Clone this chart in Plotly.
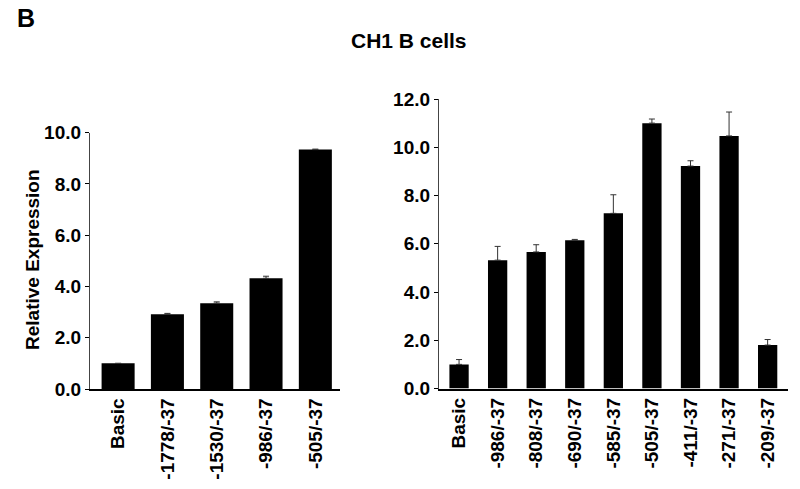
import plotly.graph_objects as go

# Left panel
left_labels = ["Basic", "-1778/-37", "-1530/-37", "-986/-37", "-505/-37"]
left_values = [1.0, 2.92, 3.35, 4.32, 9.34]
left_errors = [0.0, 0.03, 0.05, 0.08, 0.02]

# Right panel
right_labels = ["Basic", "-986/-37", "-808/-37", "-690/-37", "-585/-37",
                "-505/-37", "-411/-37", "-271/-37", "-209/-37"]
right_values = [1.0, 5.32, 5.66, 6.14, 7.26, 11.0, 9.22, 10.47, 1.8]
right_errors = [0.2, 0.57, 0.3, 0.04, 0.77, 0.17, 0.22, 0.99, 0.23]

left_ticks = [0, 2, 4, 6, 8, 10]
right_ticks = [0, 2, 4, 6, 8, 10, 12]

W, H = 800, 489
FONT = "Liberation Sans, Arial, Helvetica, sans-serif"

fig = go.Figure()

fig.add_trace(go.Bar(
    x=list(range(len(left_labels))), y=left_values, width=0.67,
    marker=dict(color="black", line=dict(width=0)),
    error_y=dict(type="data", symmetric=False, array=left_errors,
                 arrayminus=[0] * len(left_errors),
                 color="#333333", thickness=1, width=3),
    xaxis="x", yaxis="y", showlegend=False, hoverinfo="skip"))

fig.add_trace(go.Bar(
    x=list(range(len(right_labels))), y=right_values, width=0.5,
    marker=dict(color="black", line=dict(width=0)),
    error_y=dict(type="data", symmetric=False, array=right_errors,
                 arrayminus=[0] * len(right_errors),
                 color="#333333", thickness=1, width=3),
    xaxis="x2", yaxis="y2", showlegend=False, hoverinfo="skip"))

tickfont = dict(family=FONT, size=19, color="black")

common_x = dict(tickangle=-90, tickfont=tickfont, ticks="",
                showline=True, linecolor="black", linewidth=1.5,
                showgrid=False, zeroline=False, automargin=False,
                fixedrange=True)
common_y = dict(tickfont=tickfont, ticks="outside", ticklen=4,
                tickcolor="black", tickwidth=1,
                showline=True, linecolor="#444444", linewidth=1.2,
                showgrid=False, zeroline=False, automargin=False,
                fixedrange=True)

fig.update_layout(
    width=W, height=H, autosize=False,
    margin=dict(l=0, r=0, t=0, b=0, pad=0),
    paper_bgcolor="white", plot_bgcolor="white",
    font=dict(family=FONT, color="black"),
    xaxis=dict(domain=[90 / W, 340 / W], range=[-0.57, 4.5],
               tickmode="array", tickvals=list(range(len(left_labels))),
               ticktext=[f"<b>{t}</b>" for t in left_labels],
               anchor="y", **common_x),
    yaxis=dict(domain=[1 - 389 / H, 1 - 132.7 / H], range=[0, 10],
               tickmode="array", tickvals=left_ticks,
               ticktext=[f"<b>{v:.1f}</b>" for v in left_ticks],
               anchor="x", **common_y),
    xaxis2=dict(domain=[439 / W, 787.7 / W], range=[-0.52, 8.52],
                tickmode="array", tickvals=list(range(len(right_labels))),
                ticktext=[f"<b>{t}</b>" for t in right_labels],
                anchor="y2", **common_x),
    yaxis2=dict(domain=[1 - 388.5 / H, 1 - 99 / H], range=[0, 12],
                tickmode="array", tickvals=right_ticks,
                ticktext=[f"<b>{v:.1f}</b>" for v in right_ticks],
                anchor="x2", **common_y),
    annotations=[
        dict(text="<b>B</b>", x=26 / W, y=1 - 18 / H, xref="paper", yref="paper",
             xanchor="center", yanchor="middle", showarrow=False,
             font=dict(family=FONT, size=25, color="black")),
        dict(text="<b>CH1 B cells</b>", x=409 / W, y=1 - 40 / H,
             xref="paper", yref="paper", xanchor="center", yanchor="middle",
             showarrow=False, font=dict(family=FONT, size=21, color="black")),
        dict(text="<b>Relative Expression</b>", x=32 / W, y=1 - 260 / H,
             xref="paper", yref="paper", xanchor="center", yanchor="middle",
             textangle=-90, showarrow=False,
             font=dict(family=FONT, size=19, color="black")),
    ],
)

fig.write_html(
    "out.html",
    config={"displayModeBar": False, "responsive": False},
    post_script="document.body.style.margin='0';document.body.style.overflow='hidden';",
)
